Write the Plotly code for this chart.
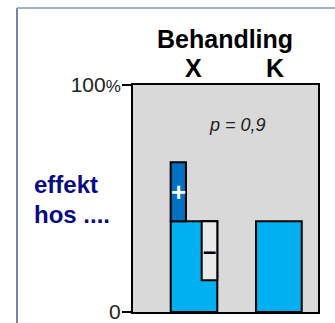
import plotly.graph_objects as go

# Data
groups = ["X", "K"]
base_share = [40, 40]          # % with effect, bar per treatment
plus_extra = 26                # extra effect on top of X (40 -> 66)
minus_low = 14                 # lower bound of the "-" box in X
p_text = "p = 0,9"

W, H = 335, 323
L, R, T, B = 133, 17, 85, 11
PW, PH = W - L - R, H - T - B


def px(x):
    return (x - L) / PW


def py(y):
    return (H - B - y) / PH


fig = go.Figure()

# positions on a 0..PW x-scale
x_main, w_main = 61.0, 46.6
x_plus, w_plus = 45.3, 15.3
x_minus, w_minus = 76.5, 15.6
x_k, w_k = 145.9, 45.7

line = dict(color="black", width=2)

fig.add_trace(go.Bar(x=[x_main], y=[base_share[0]], width=[w_main],
                     marker=dict(color="#00b0f0", line=line)))
fig.add_trace(go.Bar(x=[x_minus], y=[base_share[0] - minus_low], base=[minus_low],
                     width=[w_minus], marker=dict(color="#e9e9e9", line=line)))
fig.add_trace(go.Bar(x=[x_plus], y=[plus_extra], base=[base_share[0]],
                     width=[w_plus], marker=dict(color="#0070c0", line=line)))
fig.add_trace(go.Bar(x=[x_k], y=[base_share[1]], width=[w_k],
                     marker=dict(color="#00b0f0", line=line)))

font = "Liberation Sans, Arial, sans-serif"

ann = [
    dict(x=px(225), y=py(39), text="<b>Behandling</b>", size=25, color="black"),
    dict(x=px(193), y=py(68), text="<b>" + groups[0] + "</b>", size=25, color="black"),
    dict(x=px(275), y=py(68), text="<b>" + groups[1] + "</b>", size=25, color="black"),
    dict(x=px(237), y=py(125), text="<i>" + p_text + "</i>", size=18, color="#222"),
]
for a in ann:
    fig.add_annotation(x=a["x"], y=a["y"], xref="paper", yref="paper", text=a["text"],
                       showarrow=False, xanchor="center", yanchor="middle",
                       font=dict(family=font, size=a["size"], color=a["color"]))

for txt, yy in [("effekt", 184), ("hos ....", 214)]:
    fig.add_annotation(x=px(32), y=py(yy), xref="paper", yref="paper", text="<b>" + txt + "</b>",
                       showarrow=False, xanchor="left", yanchor="middle",
                       font=dict(family=font, size=24, color="#0a0a80"))

# +/- markers inside the boxes
fig.add_annotation(x=x_plus, y=base_share[0] + plus_extra / 2, text="<b>+</b>", showarrow=False,
                   font=dict(family=font, size=26, color="white"))
fig.add_annotation(x=x_minus, y=(base_share[0] + minus_low) / 2, text="<b>–</b>", showarrow=False,
                   font=dict(family=font, size=24, color="black"))

# outer frame
fig.add_shape(type="line", xref="paper", yref="paper", x0=px(17), x1=px(17), y0=py(8), y1=py(340),
              line=dict(color="#7186aa", width=2))
fig.add_shape(type="line", xref="paper", yref="paper", x0=px(17), x1=px(345), y0=py(8), y1=py(8),
              line=dict(color="#9fb0c9", width=2))

fig.update_layout(
    width=W, height=H,
    margin=dict(l=L, r=R, t=T, b=B, pad=0, autoexpand=False),
    paper_bgcolor="white", plot_bgcolor="#d9d9d9",
    barmode="overlay", showlegend=False,
    xaxis=dict(range=[0, PW], showgrid=False, zeroline=False, showticklabels=False,
               showline=True, linecolor="black", linewidth=2, mirror=True, ticks="",
               automargin=False),
    yaxis=dict(range=[0, 100], showgrid=False, zeroline=False, automargin=False,
               tickvals=[0, 100], ticktext=["0", "100<span style='font-size:17px'>%</span>"],
               ticks="outside", ticklen=9, tickwidth=2, tickcolor="black",
               ticklabeloverflow="allow", ticklabelstandoff=-3,
               tickfont=dict(family=font, size=21, color="#222"),
               showline=True, linecolor="black", linewidth=2, mirror=True),
)

fig.write_html("out.html", config={"displayModeBar": False})
